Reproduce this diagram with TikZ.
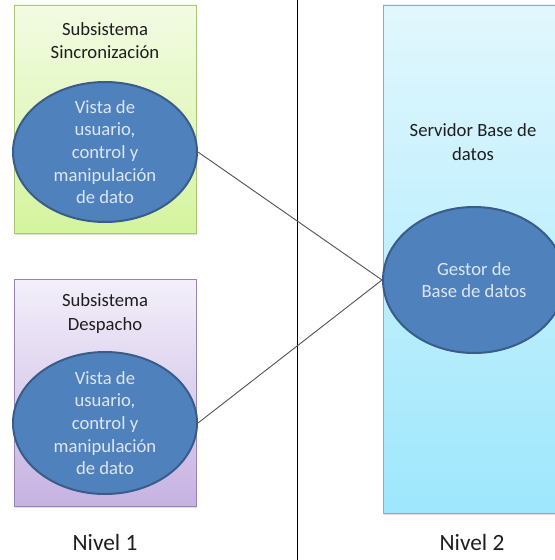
\documentclass[tikz,border=0pt]{standalone}
\usepackage{fontspec}
\setmainfont{Carlito}
\usetikzlibrary{shapes.geometric,shadows}

\definecolor{ellfill}{RGB}{79,129,189}
\definecolor{elldraw}{RGB}{56,93,138}
\definecolor{elltext}{RGB}{222,230,242}
\definecolor{boxtext}{RGB}{30,30,30}
\definecolor{greentop}{RGB}{243,251,228}
\definecolor{greenbot}{RGB}{212,244,158}
\definecolor{greenline}{RGB}{170,196,120}
\definecolor{purptop}{RGB}{243,239,250}
\definecolor{purpbot}{RGB}{198,178,226}
\definecolor{purpline}{RGB}{150,132,182}
\definecolor{bluetop}{RGB}{226,247,253}
\definecolor{bluebot}{RGB}{158,231,252}
\definecolor{blueline}{RGB}{100,186,212}
\definecolor{linkgray}{RGB}{85,85,85}

\tikzset{
  panel/.style={rectangle, draw, line width=0.7pt, inner sep=0pt,
    drop shadow={shadow xshift=0.6pt, shadow yshift=-1.2pt, opacity=0.25}},
  greenpanel/.style={panel, draw=greenline, top color=greentop, bottom color=greenbot},
  purppanel/.style={panel, draw=purpline, top color=purptop, bottom color=purpbot},
  bluepanel/.style={panel, draw=blueline, top color=bluetop, bottom color=bluebot},
  blob/.style={ellipse, draw=elldraw, fill=ellfill, line width=1.5pt, inner sep=0pt},
  blobtext/.style={align=center, text=elltext, font=\fontsize{14}{17}\selectfont},
  paneltitle/.style={align=center, text=boxtext, font=\fontsize{14}{17.5}\selectfont},
  leveltext/.style={text=boxtext, font=\fontsize{17.5}{21}\selectfont},
  link/.style={draw=linkgray, line width=0.7pt},
}

\begin{document}
\begin{tikzpicture}[x=0.75pt, y=-0.75pt]
  \clip (0,0) rectangle (555,560);
  \fill[white] (0,0) rectangle (555,560);

  % tier divider
  \coordinate (divtop) at (297.5,0);
  \coordinate (divbot) at (297.5,560);
  \draw[black, line width=0.8pt] (divtop) -- (divbot);

  % level 1: two subsystems
  \node[greenpanel, minimum width=136.5pt, minimum height=171pt] (sync) at (105,119) {};
  \node[paneltitle] (synct) at (105,40.5) {Subsistema\\Sincronización};
  \node[blob, minimum width=138pt, minimum height=105pt] (e1) at (105,152) {};
  \node[blobtext] (e1t) at (e1.center) {Vista de\\usuario,\\control y\\manipulación\\de dato};

  \node[purppanel, minimum width=136.5pt, minimum height=170.25pt] (desp) at (105,392.5) {};
  \node[paneltitle] (despt) at (105,313.5) {Subsistema\\Despacho};
  \node[blob, minimum width=138pt, minimum height=106.5pt] (e2) at (105,423) {};
  \node[blobtext] (e2t) at (e2.center) {Vista de\\usuario,\\control y\\manipulación\\de dato};

  % level 2: database server
  \node[bluepanel, minimum width=136.5pt, minimum height=381pt] (srv) at (474,259) {};
  \node[paneltitle] (srvt) at (473,142) {Servidor Base de\\datos};
  \node[blob, minimum width=136.5pt, minimum height=109.5pt] (db) at (474,280) {};
  \node[blobtext] (dbt) at (db.center) {Gestor de\\Base de datos};

  % links to the database manager
  \draw[link] (e1.east) -- (db.west);
  \draw[link] (e2.east) -- (db.west);

  % level captions
  \node[leveltext] (lvl1) at (105,542) {Nivel 1};
  \node[leveltext] (lvl2) at (472,542) {Nivel 2};
\end{tikzpicture}
\end{document}
